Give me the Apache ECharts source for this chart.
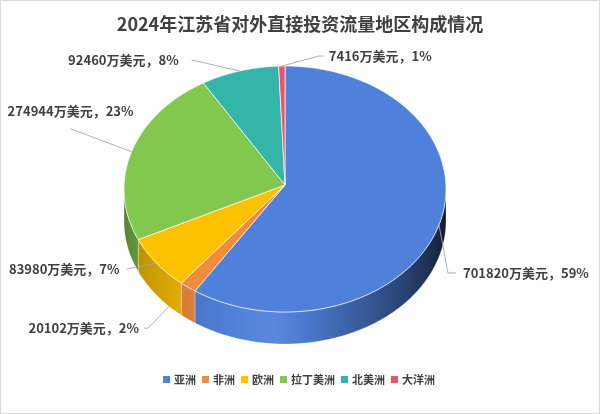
<!DOCTYPE html>
<html>
<head>
<meta charset="utf-8">
<script src="https://cdn.jsdelivr.net/npm/echarts@6/dist/echarts.min.js"></script>
<style>
html,body{margin:0;padding:0;background:#fff;}
#chart{width:600px;height:414px;box-sizing:border-box;border:1px solid #d9d9d9;}
</style>
</head>
<body>
<div id="chart"></div>
<script>
// ---- data ----
const categories = ['亚洲', '非洲', '欧洲', '拉丁美洲', '北美洲', '大洋洲'];
const values = [701820, 20102, 83980, 274944, 92460, 7416];
const unit = '万美元';
const titleText = '2024年江苏省对外直接投资流量地区构成情况';

// ---- styles / layout ----
const palette = ['#4f80da', '#f28b3a', '#fdc100', '#82c84e', '#33b5a9', '#ee5269'];
const CX = 284, CY = 188, RX = 161, RY = 123, DEPTH = 32, APEX_DY = -4;
const labelCfg = [
  {dx: 9, dy: 48, tail: 8, gap: 7, align: 'left'},
  {dx: -40, dy: 41, tail: -4, gap: 5, align: 'right'},
  {dx: -30, dy: 6, tail: 0, gap: 7, align: 'right'},
  {dx: -61, dy: -23, tail: 0, gap: 0, align: 'center', ty: -18},
  {dx: -48, dy: -11, tail: 0, gap: 13, align: 'right'},
  {dx: 37, dy: -10, tail: 5, gap: 5, align: 'left'}
];
const FONT = '"Noto Sans CJK SC", "Microsoft YaHei", sans-serif';

const total = values.reduce((a, b) => a + b, 0);
const startDeg = [];
{ let acc = 0; values.forEach(v => { startDeg.push(acc / total * 360); acc += v; }); }

function pt(deg, dy) {
  const r = deg * Math.PI / 180;
  return [CX + RX * Math.sin(r), CY - RY * Math.cos(r) + dy];
}
function arcPts(d0, d1, dy) {
  const n = Math.max(2, Math.ceil(Math.abs(d1 - d0) / 1));
  const out = [];
  for (let k = 0; k <= n; k++) out.push(pt(d0 + (d1 - d0) * k / n, dy));
  return out;
}
function shade(hex, f) {
  const n = parseInt(hex.slice(1), 16);
  let r = (n >> 16) & 255, g = (n >> 8) & 255, b = n & 255;
  if (f <= 1) { r *= f; g *= f; b *= f; }
  else { const m = f - 1; r += (255 - r) * m; g += (255 - g) * m; b += (255 - b) * m; }
  const c = x => Math.max(0, Math.min(255, Math.round(x)));
  return 'rgb(' + c(r) + ',' + c(g) + ',' + c(b) + ')';
}
function wallF(deg) {
  if (deg <= 185) { const t = Math.max(0, (deg - 90) / 95); return 0.18 + 0.9 * Math.pow(t, 1.2); }
  const t = Math.max(0, (270 - deg) / 85); return 0.62 + 0.46 * t;
}

function makeRender(i) {
  return function (params, api) {
    const v = api.value(0);
    const a0 = startDeg[i], a1 = a0 + v / total * 360;
    const base = palette[i];
    const children = [];
    // side wall (front half only)
    const w0 = Math.max(a0, 90), w1 = Math.min(a1, 270);
    if (w1 > w0) {
      const pts = arcPts(w0, w1, 0).concat(arcPts(w1, w0, DEPTH));
      const xmin = pt(w1, 0)[0], xmax = pt(w0, 0)[0];
      const stops = [];
      const span = Math.max(1e-6, xmax - xmin);
      for (let k = 0; k <= 12; k++) {
        const d = w1 - (w1 - w0) * k / 12;
        const off = Math.min(1, Math.max(0, (pt(d, 0)[0] - xmin) / span));
        stops.push({offset: off, color: shade(base, wallF(d))});
      }
      children.push({
        type: 'polygon', shape: {points: pts},
        style: {fill: {type: 'linear', x: xmin, y: 0, x2: xmin + span, y2: 0, global: true, colorStops: stops},
                stroke: 'rgba(255,255,255,0.5)', lineWidth: 0.6}
      });
    }
    // top face
    children.push({
      type: 'polygon',
      shape: {points: [[CX, CY + APEX_DY]].concat(arcPts(a0, a1, 0))},
      style: {fill: base, stroke: 'rgba(255,255,255,0.85)', lineWidth: 0.8, lineJoin: 'round'}
    });
    // label + leader line
    const cfg = labelCfg[i];
    const mid = (a0 + a1) / 2;
    const anc = pt(mid, 0);
    const elbow = [anc[0] + cfg.dx, anc[1] + cfg.dy];
    const tailEnd = [elbow[0] + cfg.tail, elbow[1]];
    children.push({
      type: 'polyline', shape: {points: [anc, elbow, tailEnd]},
      style: {stroke: '#a6a6a6', lineWidth: 0.9, fill: null}
    });
    const tx = tailEnd[0] + (cfg.align === 'left' ? cfg.gap : cfg.align === 'right' ? -cfg.gap : 0);
    const ty = tailEnd[1] + (cfg.ty || 0);
    children.push({
      type: 'text',
      style: {
        text: v + unit + '，' + Math.round(v / total * 100) + '%',
        x: tx, y: ty, align: cfg.align, verticalAlign: 'middle',
        fill: '#404040', font: 'bold 13px ' + FONT
      }
    });
    return {type: 'group', children: children};
  };
}

const chart = echarts.init(document.getElementById('chart'), null, {renderer: 'canvas'});
chart.setOption({
  animation: false,
  color: palette,
  backgroundColor: '#ffffff',
  title: {
    text: titleText, left: 'center', top: 9,
    textStyle: {fontSize: 18, fontWeight: 'bold', color: '#404040', fontFamily: FONT}
  },
  legend: {
    data: categories, left: 291 - 134, top: 368,
    icon: 'rect', itemWidth: 7, itemHeight: 7, itemGap: 6,
    textStyle: {fontSize: 11, fontWeight: 'bold', color: '#404040', fontFamily: FONT, padding: [0, 0, 0, -1]}
  },
  series: categories.map((name, i) => ({
    type: 'custom', name: name, coordinateSystem: 'none',
    data: [values[i]], renderItem: makeRender(i), silent: true,
    itemStyle: {color: palette[i]}
  }))
});
</script>
</body>
</html>
